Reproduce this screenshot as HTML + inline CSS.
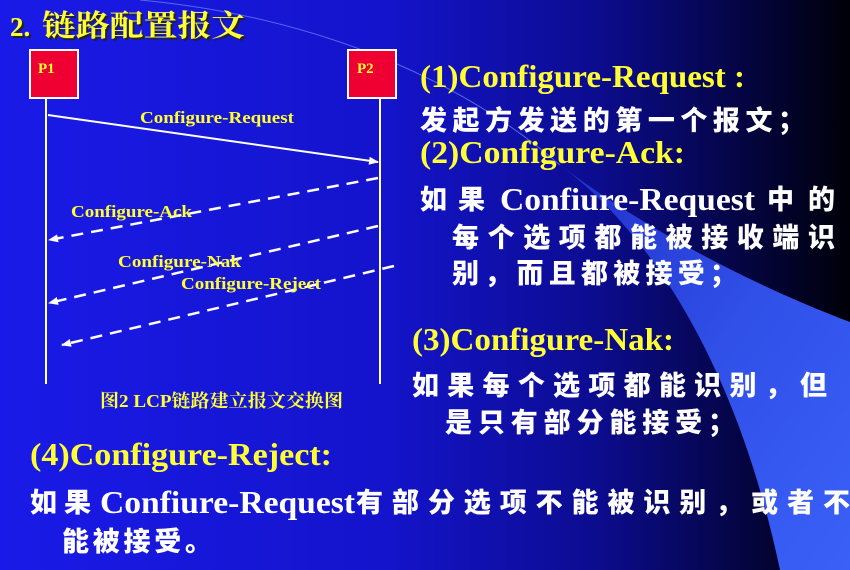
<!DOCTYPE html>
<html><head><meta charset="utf-8"><style>
html,body{margin:0;padding:0;width:850px;height:570px;overflow:hidden;background:#1414d8}
svg{display:block}
.y{fill:#ffff33;font-family:"Liberation Serif","Noto Serif CJK SC",serif;font-weight:bold}
.w{fill:#ffffff;font-family:"Liberation Serif",serif;font-weight:bold}
.c{fill:#ffffff;font-family:"Noto Sans CJK SC","WenQuanYi Zen Hei",sans-serif;font-weight:900}
</style></head><body>
<svg width="850" height="570" viewBox="0 0 850 570" xmlns="http://www.w3.org/2000/svg">
<defs>
<linearGradient id="bg" x1="0" y1="0" x2="1" y2="0">
<stop offset="0" stop-color="#1a1ae8"/>
<stop offset="0.45" stop-color="#1414cc"/>
<stop offset="0.7" stop-color="#0c0c90"/>
<stop offset="0.88" stop-color="#040440"/>
<stop offset="1" stop-color="#000008"/>
</linearGradient>
<linearGradient id="band" x1="0" y1="0" x2="1" y2="1">
<stop offset="0" stop-color="#2030c8"/>
<stop offset="0.5" stop-color="#3050e8"/>
<stop offset="1" stop-color="#3a60f8"/>
</linearGradient>
<marker id="ah" markerWidth="10" markerHeight="8" refX="9" refY="4" orient="auto" markerUnits="userSpaceOnUse">
<path d="M0,0 L10,4 L0,8 Z" fill="#fff"/>
</marker>
</defs>
<rect width="850" height="570" fill="url(#bg)"/>
<path d="M560,165 C660,240 740,380 780,570 L850,570 L850,322 C740,280 640,225 560,165 Z" fill="url(#band)"/>
<path d="M140,0 C300,15 450,70 560,165" fill="none" stroke="#6f8cff" stroke-width="1" opacity="0.7"/>

<g style="filter:drop-shadow(2px 2px 0 #222)">
<text x="10" y="36" class="y" font-size="27">2.</text>
<text x="42" y="36" class="y" font-size="30" font-family="Noto Sans CJK SC,sans-serif" font-weight="900" textLength="203" lengthAdjust="spacingAndGlyphs">链路配置报文</text>
</g>

<rect x="30" y="50" width="48" height="48" fill="#ee0033" stroke="#fff" stroke-width="2"/>
<rect x="348" y="50" width="48" height="48" fill="#ee0033" stroke="#fff" stroke-width="2"/>
<text x="38" y="73" class="y" font-size="15">P1</text>
<text x="357" y="73" class="y" font-size="15">P2</text>
<line x1="46" y1="99" x2="46" y2="384" stroke="#fff" stroke-width="2"/>
<line x1="380" y1="99" x2="380" y2="384" stroke="#fff" stroke-width="2"/>

<line x1="48" y1="115" x2="378" y2="162" stroke="#fff" stroke-width="2" marker-end="url(#ah)"/>
<g stroke="#fff" stroke-width="2.5" stroke-dasharray="12,8" fill="none">
<line x1="378" y1="178" x2="49" y2="240" marker-end="url(#ah)"/>
<line x1="378" y1="226" x2="49" y2="303" marker-end="url(#ah)"/>
<line x1="394" y1="266" x2="62" y2="345" marker-end="url(#ah)"/>
</g>
<text x="140" y="123" class="y" font-size="17" textLength="154" lengthAdjust="spacingAndGlyphs">Configure-Request</text>
<text x="71" y="217" class="y" font-size="17" textLength="121" lengthAdjust="spacingAndGlyphs">Configure-Ack</text>
<text x="118" y="267" class="y" font-size="17" textLength="123" lengthAdjust="spacingAndGlyphs">Configure-Nak</text>
<text x="181" y="289" class="y" font-size="17" textLength="140" lengthAdjust="spacingAndGlyphs">Configure-Reject</text>
<text x="100" y="407" class="y" font-size="18" font-weight="normal" textLength="243" lengthAdjust="spacingAndGlyphs">图2 LCP链路建立报文交换图</text>

<text x="420" y="87" class="y" font-size="32" textLength="325" lengthAdjust="spacingAndGlyphs">(1)Configure-Request :</text>
<text x="420" y="130" class="c" font-size="27" textLength="385">发起方发送的第一个报文；</text>
<text x="420" y="163" class="y" font-size="32" textLength="265" lengthAdjust="spacingAndGlyphs">(2)Configure-Ack:</text>
<text x="420" y="209" class="c" font-size="27">如</text>
<text x="458" y="209" class="c" font-size="27">果</text>
<text x="500" y="210" class="w" font-size="32" textLength="255" lengthAdjust="spacingAndGlyphs">Confiure-Request</text>
<text x="767" y="209" class="c" font-size="27">中</text>
<text x="808" y="209" class="c" font-size="27">的</text>
<text x="452" y="247" class="c" font-size="27" textLength="383">每个选项都能被接收端识</text>
<text x="452" y="283" class="c" font-size="27" textLength="285">别，而且都被接受；</text>
<text x="412" y="350" class="y" font-size="32" textLength="262" lengthAdjust="spacingAndGlyphs">(3)Configure-Nak:</text>
<text x="412" y="395" class="c" font-size="27" textLength="415">如果每个选项都能识别，但</text>
<text x="445" y="432" class="c" font-size="27" textLength="290">是只有部分能接受；</text>

<text x="30" y="465" class="y" font-size="32" textLength="302" lengthAdjust="spacingAndGlyphs">(4)Configure-Reject:</text>
<text x="30" y="512" class="c" font-size="27">如</text>
<text x="64" y="512" class="c" font-size="27">果</text>
<text x="100" y="513" class="w" font-size="32" textLength="255" lengthAdjust="spacingAndGlyphs">Confiure-Request</text>
<text x="356" y="512" class="c" font-size="27" textLength="494">有部分选项不能被识别，或者不</text>
<text x="62" y="551" class="c" font-size="27" textLength="150">能被接受。</text>
</svg>
</body></html>
